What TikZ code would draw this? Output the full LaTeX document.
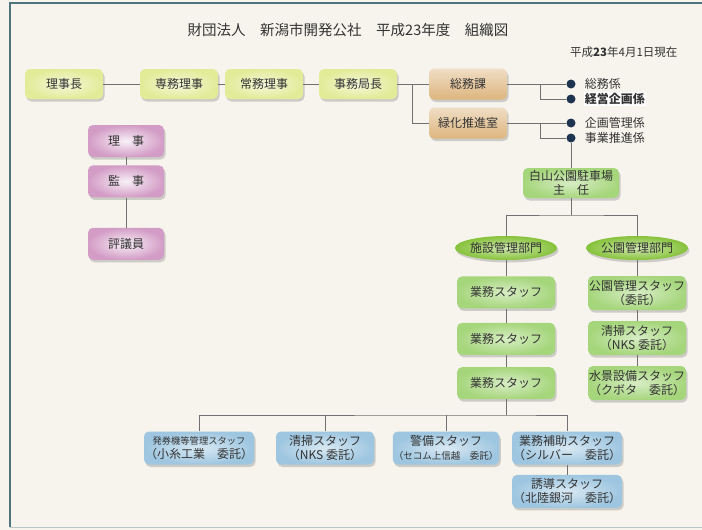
\documentclass[tikz,border=0pt]{standalone}
\usepackage{fontspec}
\setmainfont{Noto Sans CJK JP}
\usetikzlibrary{positioning,shapes.geometric,shadows}
\definecolor{paper}{HTML}{F6F4EC}
\definecolor{frameline}{HTML}{4F747C}
\definecolor{linegray}{HTML}{707070}
\definecolor{ink}{HTML}{333333}
\definecolor{limebox}{HTML}{E2EB98}
\definecolor{sandbox}{HTML}{DDB57E}
\definecolor{plumbox}{HTML}{D39CC6}
\definecolor{leafbox}{HTML}{A6D67C}
\definecolor{grassbox}{HTML}{86C23A}
\definecolor{skybox}{HTML}{9EC6E0}
\definecolor{navydot}{HTML}{1D3350}

\begin{document}
\begin{tikzpicture}[x=1pt,y=-1pt,
    box/.style={rectangle, rounded corners=5pt, text=ink, align=center,
      font=\fontsize{12}{14}\selectfont, inner sep=1pt,
      drop shadow={shadow xshift=1.5pt, shadow yshift=-2.5pt, opacity=0.35}},
    head/.style={box, inner color=limebox!35, outer color=limebox,
      minimum width=78pt, minimum height=30pt},
    office/.style={box, top color=sandbox!45, bottom color=sandbox,
      minimum width=78pt, minimum height=31pt},
    board/.style={box, inner color=plumbox!15, outer color=plumbox,
      minimum width=76pt, minimum height=32pt},
    staff/.style={box, inner color=leafbox!45, outer color=leafbox,
      minimum width=98pt, minimum height=32pt},
    section/.style={ellipse, text=ink, font=\fontsize{12}{14}\selectfont,
      inner color=grassbox!40, outer color=grassbox, inner sep=0pt,
      minimum width=102pt, minimum height=24pt,
      drop shadow={shadow xshift=1.5pt, shadow yshift=-2.5pt, opacity=0.35}},
    outsource/.style={box, inner color=skybox!40, outer color=skybox,
      minimum width=98pt, minimum height=33pt},
    dot/.style={circle, fill=navydot, minimum size=9pt, inner sep=0pt},
    item/.style={text=ink, font=\fontsize{12}{14}\selectfont, inner sep=1pt},
    wire/.style={draw=linegray, line width=0.9pt}
  ]
  \useasboundingbox[fill=paper] (0,0) rectangle (702,530);
  \draw[frameline, line width=1.3pt] (10,527) -- (10,3) -- (702,3);
  \draw[frameline!40, line width=0.8pt] (10,527) -- (702,527);

  \node[text=ink, font=\fontsize{14.5}{16}\selectfont] (title) at (348,30)
    {財団法人　新潟市開発公社　平成23年度　組織図};
  \node[text=ink, font=\fontsize{11.5}{13}\selectfont, anchor=east] (date) at (681,52)
    {平成\textbf{23}年4月1日現在};

  \node[head] (rijicho) at (64,84) {理事長};
  \node[head] (senmu) at (179,84) {専務理事};
  \node[head] (jomu) at (264,84) {常務理事};
  \node[head] (kyokucho) at (358,84) {事務局長};
  \node[office] (somuka) at (468,84) {総務課};
  \node[office] (ryokka) at (468,123) {緑化推進室};

  \node[dot] (b1) at (571,84) {};
  \node[dot] (b2) at (571,99) {};
  \node[dot] (b3) at (571,123) {};
  \node[dot] (b4) at (571,138) {};
  \node[item, right=8pt of b1] (t1) {総務係};
  \node[item, right=8pt of b2, fill=white, font=\fontsize{12}{14}\selectfont\bfseries] (t2) {経営企画係};
  \node[item, right=8pt of b3] (t3) {企画管理係};
  \node[item, right=8pt of b4] (t4) {事業推進係};

  \node[board] (riji) at (126,141) {理　事};
  \node[board, below=8pt of riji] (kanji) {監　事};
  \node[board, below=30pt of kanji] (hyogi) {評議員};

  \node[staff, minimum width=96pt, minimum height=30pt] (hakusan) at (571,183) {白山公園駐車場\\主　任};
  \node[section] (shisetsu) at (506,248) {施設管理部門};
  \node[section] (koen) at (637,248) {公園管理部門};

  \node[staff, below=16pt of shisetsu] (gyomuA) {業務スタッフ};
  \node[staff, below=14pt of gyomuA] (gyomuB) {業務スタッフ};
  \node[staff, below=12pt of gyomuB] (gyomuC) {業務スタッフ};
  \node[staff, minimum height=34pt] (koenstaff) at (637,293) {公園管理スタッフ\\（委託）};
  \node[staff, minimum height=34pt] (seisoA) at (637,338) {清掃スタッフ\\（NKS 委託）};
  \node[staff, minimum height=34pt] (suikei) at (637,383) {水景設備スタッフ\\（クボタ　委託）};

  \node[outsource] (hakken) at (199,448)
    {{\fontsize{9.3}{11}\selectfont 発券機等管理スタッフ}\\（小糸工業　委託）};
  \node[outsource] (seisoB) at (325,448) {清掃スタッフ\\（NKS 委託）};
  \node[outsource] (keibi) at (446,448)
    {警備スタッフ\\{\fontsize{9.5}{11}\selectfont （セコム上信越　委託）}};
  \node[outsource] (hojo) at (567,448) {業務補助スタッフ\\（シルバー　委託）};
  \node[outsource, below=10pt of hojo] (yudo) {誘導スタッフ\\（北陸銀河　委託）};

  \coordinate (kj) at (412,84);
  \coordinate (s1) at (540,84);
  \coordinate (r1) at (540,123);
  \coordinate (h1) at (571,215);
  \coordinate (c1) at (506,415);

  \draw[wire] (rijicho) -- (senmu) -- (jomu) -- (kyokucho) -- (somuka);
  \draw[wire] (kj) |- (ryokka);
  \draw[wire] (somuka) -- (b1);
  \draw[wire] (s1) |- (b2);
  \draw[wire] (ryokka) -- (b3);
  \draw[wire] (r1) |- (b4);
  \draw[wire] (b4) -- (hakusan);
  \draw[wire] (riji) -- (kanji) -- (hyogi);
  \draw[wire] (hakusan) -- (h1);
  \draw[wire] (shisetsu) |- (h1) -| (koen);
  \draw[wire] (shisetsu) -- (gyomuA) -- (gyomuB) -- (gyomuC) -- (c1);
  \draw[wire] (koen) -- (koenstaff) -- (seisoA) -- (suikei);
  \draw[wire] (hakken) |- (c1) -| (hojo);
  \draw[wire] (seisoB) -- (seisoB |- c1);
  \draw[wire] (keibi) -- (keibi |- c1);
  \draw[wire] (hojo) -- (yudo);
\end{tikzpicture}
\end{document}
